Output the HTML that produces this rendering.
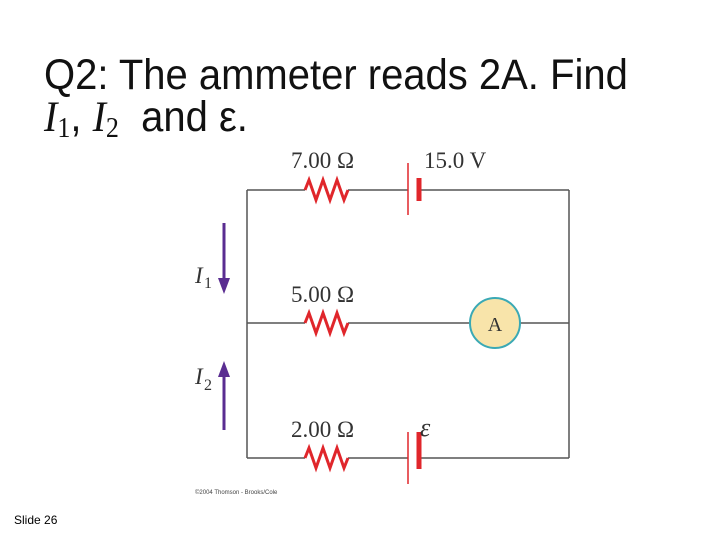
<!DOCTYPE html>
<html><head><style>
body{margin:0;width:720px;height:540px;background:#fff;overflow:hidden;position:relative;font-family:"Liberation Sans",sans-serif}
.t{position:absolute;left:44px;font-size:43px;line-height:43px;color:#111;white-space:nowrap;transform:scaleX(0.93);transform-origin:0 0}
</style></head><body>
<div class="t" style="top:54px">Q2: The ammeter reads 2A. Find</div>
<div class="t" style="top:96px"><span style="font-family:'Liberation Serif',serif;font-style:italic">I</span><span style="font-size:28px;font-family:'Liberation Serif',serif;position:relative;top:6px">1</span>, <span style="font-family:'Liberation Serif',serif;font-style:italic">I</span><span style="font-size:28px;font-family:'Liberation Serif',serif;position:relative;top:6px">2</span> &nbsp;and ε.</div>
<div style="position:absolute;left:14px;top:513px;font-size:12px">Slide 26</div>
<svg width="720" height="540" style="position:absolute;left:0;top:0" font-family="Liberation Serif,serif">
<g stroke="#555" stroke-width="1.5" fill="none">
<path d="M247 190V458M569 190V458M247 190H305M348 190H408M419 190H569M247 323H305M348 323H470M520 323H569M247 458H305M348 458H408M419 458H569"/>
</g>
<g stroke="#e0262b" stroke-width="3" fill="none" stroke-linejoin="miter">
<path d="M305 190l4-10 7 20 7-20 7 20 7-20 7 20 4-10"/>
<path d="M305 323l4-10 7 20 7-20 7 20 7-20 7 20 4-10"/>
<path d="M305 458l4-10 7 20 7-20 7 20 7-20 7 20 4-10"/>
</g>
<g stroke="#e0262b">
<path d="M408 163V215M408 432V484" stroke-width="1.5"/>
<path d="M419 178V201M419 432V469" stroke-width="5"/>
</g>
<circle cx="495" cy="323" r="25" fill="#f8e4aa" stroke="#3aa9b5" stroke-width="2"/>
<text x="495" y="331" font-size="20" text-anchor="middle" fill="#333">A</text>
<g fill="#333" font-size="23">
<text x="291" y="168">7.00 Ω</text>
<text x="424" y="168">15.0 V</text>
<text x="291" y="302">5.00 Ω</text>
<text x="291" y="437">2.00 Ω</text>
<text x="420" y="436" font-style="italic" font-size="26">ε</text>
<text x="195" y="283" font-style="italic">I</text><text x="204" y="288" font-size="16">1</text>
<text x="195" y="384" font-style="italic">I</text><text x="204" y="390" font-size="16">2</text>
</g>
<g stroke="#5a2d91" stroke-width="3" fill="#5a2d91">
<path d="M224 223V280"/><path d="M218 278L224 294L230 278Z" stroke="none"/>
<path d="M224 430V375"/><path d="M218 377L224 361L230 377Z" stroke="none"/>
</g>
<text x="195" y="494" font-size="6" fill="#444" font-family="Liberation Sans,sans-serif">©2004 Thomson - Brooks/Cole</text>
</svg>
</body></html>
